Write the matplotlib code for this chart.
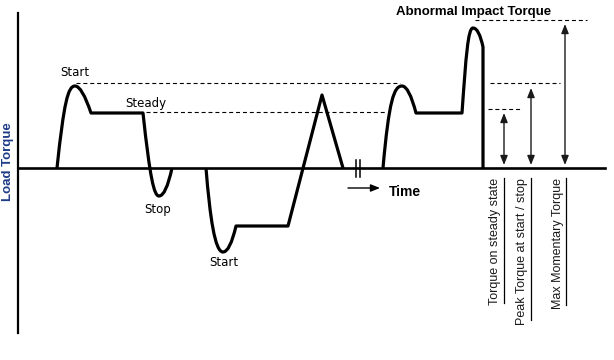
import matplotlib.pyplot as plt
from matplotlib.path import Path
from matplotlib.patches import PathPatch

plt.rcParams['font.family'] = ['Liberation Sans', 'DejaVu Sans']

# load torque profile, torque measured upward from the time axis
# each step: (code, points) -> M move, L line, Q quadratic, C cubic
first_run = [
    ('M', [(57, 0)]),
    ('C', [(64, 66), (68, 82), (75, 82)]),
    ('Q', [(82, 82), (91, 55)]),
    ('L', [(143, 55)]),
    ('C', [(150, -10), (154, -28), (159, -28)]),
    ('Q', [(166, -28), (172, 0)]),
    ('M', [(206, 0)]),
    ('C', [(210, -50), (215, -84), (223, -84)]),
    ('Q', [(230, -84), (236, -58)]),
    ('L', [(288, -58)]),
    ('L', [(322, 73)]),
    ('L', [(343, 0)]),
]
second_run = [
    ('M', [(383, 0)]),
    ('C', [(389, 68), (394, 82), (402, 82)]),
    ('Q', [(409, 82), (416, 55)]),
    ('L', [(462, 55)]),
    ('C', [(466, 112), (468, 140), (473, 140)]),
    ('Q', [(479, 140), (483, 121)]),
    ('L', [(483, 0)]),
]

# reference levels
start_level = 85
steady_level = 56
steady_level_r = 59
impact_level = 148

# dashed guides: (level, x from, x to)
guides = [
    (start_level, 76, 400),
    (steady_level, 146, 385),
    (start_level, 490, 560),
    (steady_level_r, 488, 522),
    (impact_level, 475, 587),
]

# measuring arrows: (x, top, bottom)
arrows = [(504, 55, 3), (531, 80, 3), (565, 144, 3)]

# rotated captions: (text, x, top, bottom, bar x)
captions = [
    ('Torque on steady state', 495, 178, 303, 504),
    ('Peak Torque at start / stop', 522, 178, 320, 531),
    ('Max Momentary Torque', 558, 178, 305, 566),
]

# point labels: (text, x, torque)
labels = [
    ('Start', 60, 95),
    ('Steady', 125, 65),
    ('Stop', 144, -41),
    ('Start', 209, -95),
]

BASE = 168  # pixel row of time axis


def make_path(steps):
    codes_map = {'M': Path.MOVETO, 'L': Path.LINETO, 'Q': Path.CURVE3, 'C': Path.CURVE4}
    verts, codes = [], []
    for code, pts in steps:
        for p in pts:
            verts.append(p)
            codes.append(codes_map[code])
    return Path(verts, codes)


fig = plt.figure(figsize=(6.14, 3.6), dpi=100)
ax = fig.add_axes([0, 0, 1, 1])
ax.set_xlim(0, 614)
ax.set_ylim(BASE - 360, BASE)
ax.axis('off')

# axes
ax.plot([18, 18], [BASE - 13, BASE - 333], color='black', lw=1.6)
ax.plot([18, 605], [0, 0], color='black', lw=1.9)

for run in (first_run, second_run):
    ax.add_patch(PathPatch(make_path(run), fill=False, lw=2.3,
                           edgecolor='black', capstyle='butt', joinstyle='round'))

# break mark on time axis
for bx in (356, 360):
    ax.plot([bx, bx], [8, -9], color='black', lw=1.1)

for level, x0, x1 in guides:
    ax.plot([x0, x1], [level, level], color='black', lw=0.8, dashes=(3.6, 2.6))

for x, top, bottom in arrows:
    ax.annotate('', xy=(x, bottom), xytext=(x, top),
                arrowprops=dict(arrowstyle='<|-|>,head_length=0.55,head_width=0.22',
                                color='#1a1a1a', lw=1.0, mutation_scale=10,
                                shrinkA=0, shrinkB=0))

for text, x, top, bottom, bar_x in captions:
    ax.text(x, BASE - top, text, rotation=90, ha='center', va='top',
            fontsize=9, color='#1a1a1a')
    ax.plot([bar_x, bar_x], [BASE - top, BASE - bottom], color='black', lw=0.9)

for text, x, y in labels:
    ax.text(x, y, text, ha='left', va='center', fontsize=8.5,
            family='DejaVu Sans', color='black')

# time arrow
ax.annotate('', xy=(380, -20), xytext=(348, -20),
            arrowprops=dict(arrowstyle='-|>,head_length=0.55,head_width=0.22',
                            color='black', lw=1.0, mutation_scale=10,
                            shrinkA=0, shrinkB=0))
ax.text(389, -24, 'Time', ha='left', va='center', fontsize=10, fontweight='bold')

ax.text(396, BASE - 12, 'Abnormal Impact Torque', ha='left', va='center',
        fontsize=9.5, fontweight='bold')
ax.text(8, BASE - 162, 'Load Torque', rotation=90, ha='center', va='center',
        fontsize=9.5, fontweight='bold', color='#1f3c88')

fig.savefig('out.png', dpi=100)
